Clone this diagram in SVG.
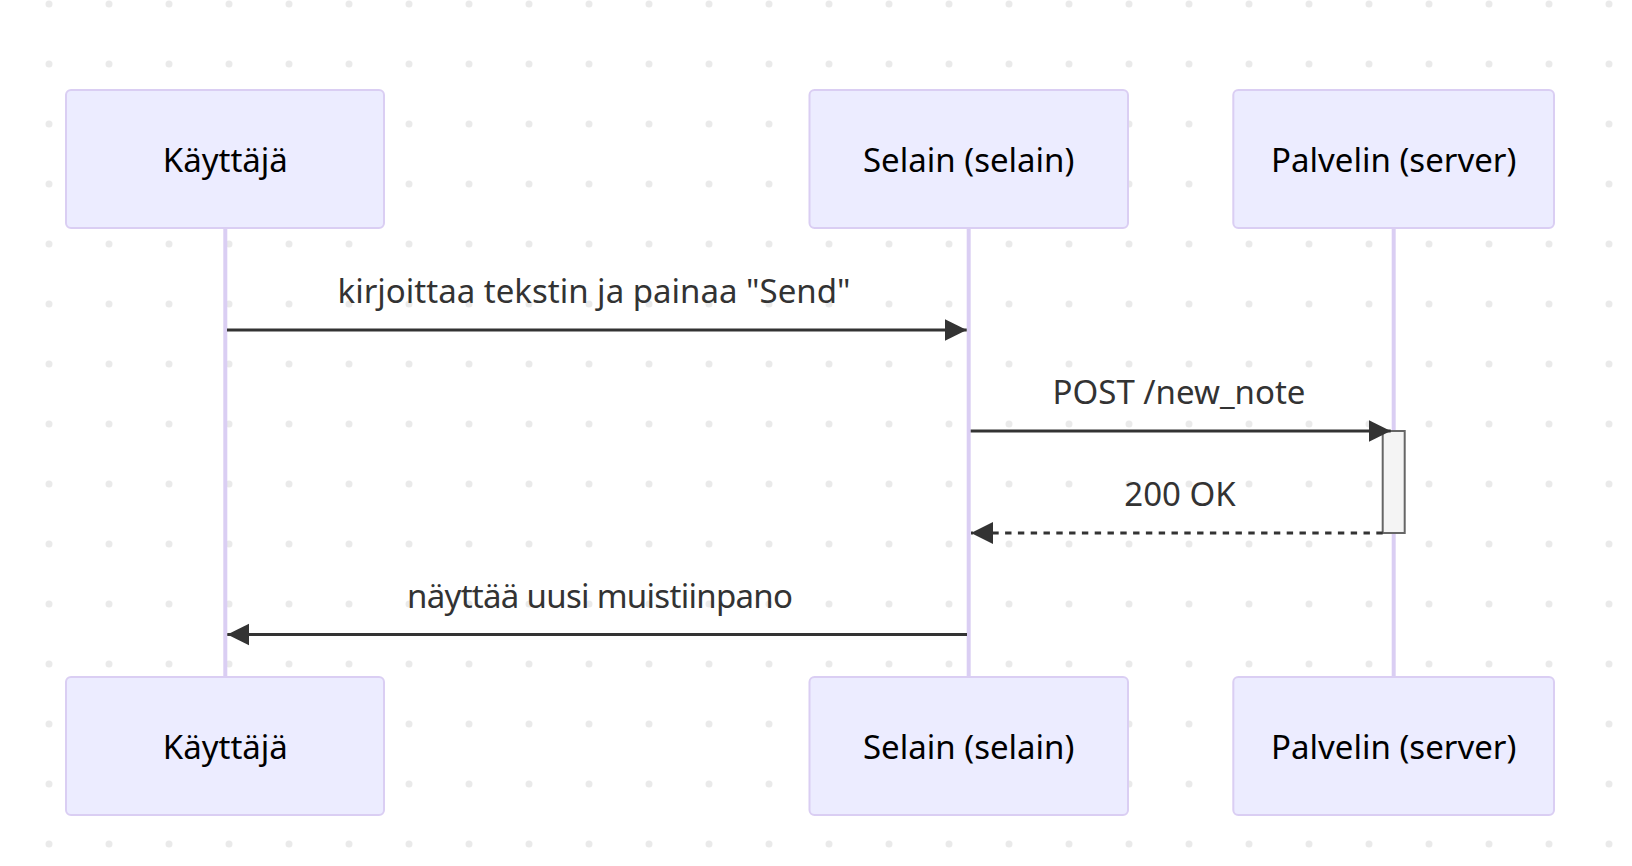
<svg xmlns="http://www.w3.org/2000/svg" width="1632" height="866" viewBox="0 0 1632 866">
  <style>
    .actor rect { fill: #ECECFF; stroke: #DACEF3; stroke-width: 2; }
    .actor text { font-family: "Noto Sans", "Liberation Sans", sans-serif; font-size: 33px; fill: #000; text-anchor: middle; }
    .lifeline { stroke: #DACEF3; stroke-width: 4; }
    .msg { stroke: #333; stroke-width: 3.2; fill: none; }
    .dashed { stroke-dasharray: 6.4 6.4; }
    .label { font-family: "Noto Sans", "Liberation Sans", sans-serif; font-size: 33px; fill: #333; text-anchor: middle; }
    .activation { fill: #F4F4F4; stroke: #666; stroke-width: 2; }
  </style>
  <defs>
    <pattern id="dots" x="19" y="-26" width="60" height="60" patternUnits="userSpaceOnUse">
      <circle cx="30" cy="30" r="3.5" fill="#EAEAEA"/>
    </pattern>
    <marker id="arrow" markerUnits="userSpaceOnUse" markerWidth="23" markerHeight="23" refX="22" refY="11" orient="auto">
      <path d="M0,0 L22,11 L0,22 Z" fill="#333"/>
    </marker>
  </defs>
  <rect width="1632" height="866" fill="#FFFFFF"/>
  <rect width="1632" height="866" fill="url(#dots)"/>

  <g id="lifelines">
    <line class="lifeline" x1="225.3" y1="228" x2="225.3" y2="677"/>
    <line class="lifeline" x1="968.7" y1="228" x2="968.7" y2="677"/>
    <line class="lifeline" x1="1393.7" y1="228" x2="1393.7" y2="677"/>
  </g>

  <g id="actor-kayttaja-top" class="actor">
    <rect x="66" y="90" width="318" height="138" rx="5"/>
    <text x="225.3" y="171.5">Käyttäjä</text>
  </g>
  <g id="actor-selain-top" class="actor">
    <rect x="809.5" y="90" width="318.5" height="138" rx="5"/>
    <text x="968.7" y="171.5">Selain (selain)</text>
  </g>
  <g id="actor-palvelin-top" class="actor">
    <rect x="1233.3" y="90" width="320.7" height="138" rx="5"/>
    <text x="1393.7" y="171.5">Palvelin (server)</text>
  </g>

  <g id="activation-palvelin">
    <rect class="activation" x="1382.7" y="431" width="22" height="102"/>
  </g>

  <g id="connectors">
    <line class="msg" x1="227" y1="330" x2="966.7" y2="330" marker-end="url(#arrow)"/>
    <text class="label" x="594" y="303">kirjoittaa tekstin ja painaa "Send"</text>

    <line class="msg" x1="970.7" y1="431" x2="1390.7" y2="431" marker-end="url(#arrow)"/>
    <text class="label" x="1179" y="404">POST /new_note</text>

    <line class="msg dashed" x1="1382.7" y1="533" x2="971" y2="533" marker-end="url(#arrow)"/>
    <text class="label" x="1180" y="506">200 OK</text>

    <line class="msg" x1="967" y1="634.5" x2="227.3" y2="634.5" marker-end="url(#arrow)"/>
    <text class="label" x="600" y="607.5" textLength="386">näyttää uusi muistiinpano</text>
  </g>

  <g id="actor-kayttaja-bottom" class="actor">
    <rect x="66" y="677" width="318" height="138" rx="5"/>
    <text x="225.3" y="758.5">Käyttäjä</text>
  </g>
  <g id="actor-selain-bottom" class="actor">
    <rect x="809.5" y="677" width="318.5" height="138" rx="5"/>
    <text x="968.7" y="758.5">Selain (selain)</text>
  </g>
  <g id="actor-palvelin-bottom" class="actor">
    <rect x="1233.3" y="677" width="320.7" height="138" rx="5"/>
    <text x="1393.7" y="758.5">Palvelin (server)</text>
  </g>
</svg>
